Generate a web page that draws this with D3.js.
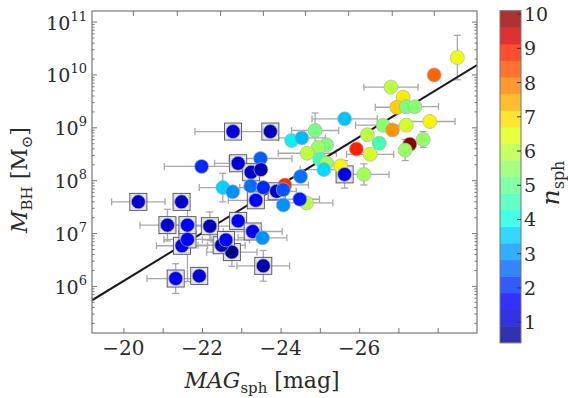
<!DOCTYPE html>
<html><head><meta charset="utf-8">
<script src="https://cdn.jsdelivr.net/npm/d3@7"></script>
<style>
body{margin:0;background:#fff}
svg{display:block}
</style>
</head><body>
<svg id="c" width="568" height="398" style="font-family:'DejaVu Serif',serif" font-family="DejaVu Serif, serif"></svg>
<script>
// ---------------- data ----------------
const mag  = [-20.38,-21.48,-21.12,-22.20,-21.49,-21.63,-21.63,-21.33,-21.93,-22.76,-22.50,-22.61,-23.56,-22.92,-23.29,-23.54,-23.37,-24.07,-24.66,-24.49,
              -22.79,-23.74,-21.99,-22.92,-23.49,-23.25,-23.50,-22.53,-22.78,-23.24,-23.56,-24.11,-23.90,-24.07,-24.51,-24.28,-24.54,-24.88,-25.63,-25.17,
              -24.96,-24.68,-25.00,-25.17,-25.10,-25.53,-25.63,-26.12,-25.93,-26.28,-26.51,-26.21,-26.61,-26.85,-27.20,-27.80,-26.81,-27.12,-26.96,-27.20,
              -27.42,-27.29,-27.17,-27.63,-27.91,-28.50];
const logM = [7.59,7.59,7.15,7.13,6.76,6.88,7.15,6.14,6.19,6.64,6.77,6.87,6.38,7.23,7.03,6.91,7.62,7.53,7.57,7.64,
              8.92,8.92,8.26,8.32,8.41,8.15,8.20,7.86,7.78,7.89,7.86,7.91,7.79,7.82,8.07,8.75,8.80,8.94,9.16,8.67,
              8.62,8.51,8.39,8.32,8.20,8.27,8.11,8.11,8.59,8.49,8.70,8.86,9.04,8.95,9.04,9.11,9.76,9.57,9.38,9.39,
              9.39,8.68,8.57,8.77,9.99,10.32];
const nSph = [1.1,1.05,1.1,0.9,1.3,1.6,1.6,1.5,1.2,0.5,0.8,1.4,0.8,1.6,1.3,3.0,1.6,3.0,6.0,1.9,
              1.2,0.9,2.0,1.1,2.5,1.0,0.9,3.6,3.0,2.7,2.0,8.8,1.0,2.4,2.7,3.9,3.4,5.2,3.5,5.3,
              5.6,6.0,4.5,5.7,3.7,6.7,1.3,5.7,8.9,6.3,4.6,6.0,5.4,7.7,6.3,6.7,6.0,6.8,7.1,5.2,
              5.4,10.0,5.6,5.5,8.2,6.6];
const boxed = [1,1,1,1,1,1,1,1,1,1,1,1,1,1,1,0,1,0,0,0,
               1,1,0,1,0,1,0,0,0,0,0,0,1,0,0,0,0,0,0,0,
               0,0,0,0,0,0,1,0,0,0,0,0,0,0,0,0,0,0,0,0,
               0,0,0,0,0,0];
const magErr = [0.68,0,0.7,0.6,0.65,0.6,0.5,0.73,0,0.64,0.6,0.6,0.67,0,0.75,0.62,0.7,0,0.67,0.5,
                0.97,0,0.95,0.6,0.8,0,0,0.6,0,0,0.6,0.6,0.5,0,0,0,0.6,0.6,0.83,0,
                0,0.74,0,0,0.6,0,0,0.64,0,0.6,0,0,0.7,0,0,0.64,0.69,0,0.55,0,
                0.6,0,0,0,0,0];
const logErr = [0,0,0.3,0.27,0,0.8,0,0.28,0,0.27,0,0,0.29,0,0,0,0,0,0,0,
                0,0,0,0,0,0,0,0.27,0,0,0,0,0,0,0,0,0,0.33,0,0,
                0,0,0,0,0,0,0.26,0.2,0,0,0,0,0,0,0,0,0,0,0,0,
                0,0,0.2,0.15,0,0.42];
const xTicks = [-20,-22,-24,-26];
const xMinor = [-20,-21,-22,-23,-24,-25,-26,-27,-28];
const topTicks = [-20.24,-21.36,-22.46,-23.55,-24.62,-25.72,-26.83,-27.90];
const yDecades = [6,7,8,9,10,11];
const cbTicks = [1,2,3,4,5,6,7,8,9,10];
const fitPivot = -22, fitIntercept = 7.00, fitSlope = -0.454;

// ---------------- helpers ----------------
function jet(t){
  t = Math.max(0, Math.min(1, t));
  const f = pts => { for (let i=1;i<pts.length;i++){ if (t<=pts[i][0]){ const [x0,y0]=pts[i-1],[x1,y1]=pts[i]; return y0+(y1-y0)*(t-x0)/(x1-x0);} } return pts[pts.length-1][1]; };
  const r = f([[0,0],[0.35,0],[0.66,1],[0.89,1],[1,0.5]]);
  const g = f([[0,0],[0.125,0],[0.375,1],[0.64,1],[0.91,0],[1,0]]);
  const b = f([[0,0.5],[0.11,1],[0.34,1],[0.65,0],[1,0]]);
  return d3.rgb(r*255, g*255, b*255).formatHex();
}

const FONT = "DejaVu Serif, serif";
const svg = d3.select("#c");
const L=92, R=477, T=11, B=333;
const x = d3.scaleLinear().domain([-19.2,-29]).range([L,R]);
const y = d3.scaleLog().domain([Math.pow(10,5.11), Math.pow(10,11.2)]).range([B,T]);
const nDom = [0.4,10.1];
const tScale = d3.scaleLinear().domain(nDom).range([0,1]);
const color = n => jet(tScale(n));

const pts = mag.map((m,i)=>({m, l:logM[i], n:nSph[i], b:boxed[i], xe:magErr[i], ye:logErr[i]}));

svg.append("clipPath").attr("id","pc").append("rect").attr("x",L).attr("y",T).attr("width",R-L).attr("height",B-T);
const plot = svg.append("g").attr("clip-path","url(#pc)");

// error bars
const eb = plot.append("g").attr("stroke","#a8a8a8").attr("stroke-width",1.3).attr("fill","none");
pts.forEach(p=>{
  const cx=x(p.m), cy=y(Math.pow(10,p.l));
  if (p.xe>0){
    const x0=x(p.m-p.xe), x1=x(p.m+p.xe);
    eb.append("line").attr("x1",x0).attr("x2",x1).attr("y1",cy).attr("y2",cy);
    [x0,x1].forEach(xx=>eb.append("line").attr("x1",xx).attr("x2",xx).attr("y1",cy-3.5).attr("y2",cy+3.5));
  }
  if (p.ye>0){
    const y0=y(Math.pow(10,p.l-p.ye)), y1=y(Math.pow(10,p.l+p.ye));
    eb.append("line").attr("x1",cx).attr("x2",cx).attr("y1",y0).attr("y2",y1);
    [y0,y1].forEach(yy=>eb.append("line").attr("x1",cx-3.5).attr("x2",cx+3.5).attr("y1",yy).attr("y2",yy));
  }
});

// fit line
const lineGen = d3.line().x(d=>x(d)).y(d=>y(Math.pow(10, fitIntercept + fitSlope*(d-fitPivot))));
plot.append("path").datum(x.domain()).attr("d",lineGen).attr("stroke","#1a1a1a").attr("stroke-width",2).attr("fill","none");

// boxes
const bx = plot.append("g");
pts.filter(p=>p.b).forEach(p=>{
  const cx=x(p.m), cy=y(Math.pow(10,p.l)), s=8.5;
  bx.append("rect").attr("x",cx-s).attr("y",cy-s).attr("width",2*s).attr("height",2*s)
    .attr("fill","#f2f2f2").attr("stroke","#5a5a5a").attr("stroke-width",1);
  bx.append("rect").attr("x",cx-s+1.5).attr("y",cy-s+1.5).attr("width",2*s-3).attr("height",2*s-3)
    .attr("fill","none").attr("stroke","#dcdcdc").attr("stroke-width",1);
});
// circles
plot.append("g").selectAll("circle").data(pts).join("circle")
  .attr("cx",d=>x(d.m)).attr("cy",d=>y(Math.pow(10,d.l))).attr("r",7)
  .attr("fill",d=>color(d.n)).attr("stroke","#b0b0b0").attr("stroke-width",0.7);

// ---------------- axes ----------------
const axCol = "#777";
function styleAxis(g){ g.select(".domain").remove(); g.selectAll("line").attr("stroke",axCol); g.selectAll("text").remove(); }
svg.append("g").attr("transform",`translate(0,${B})`).call(d3.axisBottom(x).tickValues(xMinor).tickSizeInner(-5).tickSizeOuter(0)).call(styleAxis);
svg.append("g").attr("transform",`translate(0,${T})`).call(d3.axisTop(x).tickValues(topTicks).tickSizeInner(-5).tickSizeOuter(0)).call(styleAxis);
const yMaj = yDecades.map(d=>Math.pow(10,d));
const yMin = [];
[5,6,7,8,9,10,11].forEach(d=>{ for(let k=2;k<10;k++){ const v=k*Math.pow(10,d); if (v>y.domain()[0] && v<y.domain()[1]) yMin.push(v);} });
svg.append("g").attr("transform",`translate(${L},0)`).call(d3.axisLeft(y).tickValues(yMaj).tickSizeInner(-5).tickSizeOuter(0)).call(styleAxis);
svg.append("g").attr("transform",`translate(${L},0)`).call(d3.axisLeft(y).tickValues(yMin).tickSizeInner(-2.5).tickSizeOuter(0)).call(styleAxis);
svg.append("g").attr("transform",`translate(${R},0)`).call(d3.axisRight(y).tickValues(yMaj).tickSizeInner(-5).tickSizeOuter(0)).call(styleAxis);
svg.append("g").attr("transform",`translate(${R},0)`).call(d3.axisRight(y).tickValues(yMin).tickSizeInner(-2.5).tickSizeOuter(0)).call(styleAxis);
svg.append("rect").attr("x",L).attr("y",T).attr("width",R-L).attr("height",B-T).attr("fill","none").attr("stroke",axCol).attr("stroke-width",1.2);

const txt = (sel)=>sel.attr("font-family",FONT).attr("fill","#2a2a2a");

// tick labels
svg.append("g").selectAll("text").data(xTicks).join("text").call(txt)
  .attr("x",d=>x(d)).attr("y",B+22).attr("text-anchor","middle").attr("font-size",20)
  .text(d=>"\u2212"+Math.abs(d));
const yl = svg.append("g").selectAll("text").data(yDecades).join("text").call(txt)
  .attr("x",L-5).attr("y",d=>y(Math.pow(10,d))+8).attr("text-anchor","end").attr("font-size",19);
yl.append("tspan").text("10");
yl.append("tspan").attr("dy",-9).attr("font-size",13).text(d=>d);

// axis labels
const xl = svg.append("text").call(txt).attr("x",262).attr("y",388).attr("text-anchor","middle").attr("font-size",22);
xl.append("tspan").attr("font-style","italic").text("MAG");
xl.append("tspan").attr("font-size",15).attr("dy",5).text("sph");
xl.append("tspan").attr("dy",-5).text(" [mag]");

const ylab = svg.append("text").call(txt).attr("transform","translate(27,180) rotate(-90)").attr("text-anchor","middle").attr("font-size",22);
ylab.append("tspan").attr("font-style","italic").text("M");
ylab.append("tspan").attr("font-size",15).attr("dy",5).text("BH");
ylab.append("tspan").attr("dy",-5).text(" [M");
ylab.append("tspan").attr("font-size",15).attr("dy",5).text("\u2299");
ylab.append("tspan").attr("dy",-5).text("]");

// ---------------- colorbar ----------------
const cbX=500, cbW=21;
const cy = d3.scaleLinear().domain(nDom).range([342.7,10.7]);
const nb = 20, step=(nDom[1]-nDom[0])/nb;
const bands = d3.range(nb).map(i=>nDom[0]+i*step);
svg.append("g").attr("opacity",0.8).selectAll("rect").data(bands).join("rect")
  .attr("x",cbX).attr("width",cbW).attr("y",d=>cy(d+step)).attr("height",d=>cy(d)-cy(d+step)+0.5)
  .attr("fill",d=>color(d+step/2));
svg.append("rect").attr("x",cbX).attr("y",cy(nDom[1])).attr("width",cbW).attr("height",cy(nDom[0])-cy(nDom[1]))
  .attr("fill","none").attr("stroke","#777").attr("stroke-width",1);
svg.append("g").selectAll("line").data(cbTicks).join("line")
  .attr("x1",cbX+cbW).attr("x2",cbX+cbW-4).attr("y1",d=>cy(d)).attr("y2",d=>cy(d)).attr("stroke","#333").attr("stroke-width",1);
svg.append("g").selectAll("text").data(cbTicks).join("text").call(txt)
  .attr("x",cbX+cbW+3).attr("y",d=>cy(d)+7).attr("font-size",19).text(d=>d);
const cl = svg.append("text").call(txt).attr("transform","translate(559,183) rotate(-90)").attr("text-anchor","middle").attr("font-size",25);
cl.append("tspan").attr("font-style","italic").text("n");
cl.append("tspan").attr("font-size",16).attr("dy",5).text("sph");
</script>
</body></html>
